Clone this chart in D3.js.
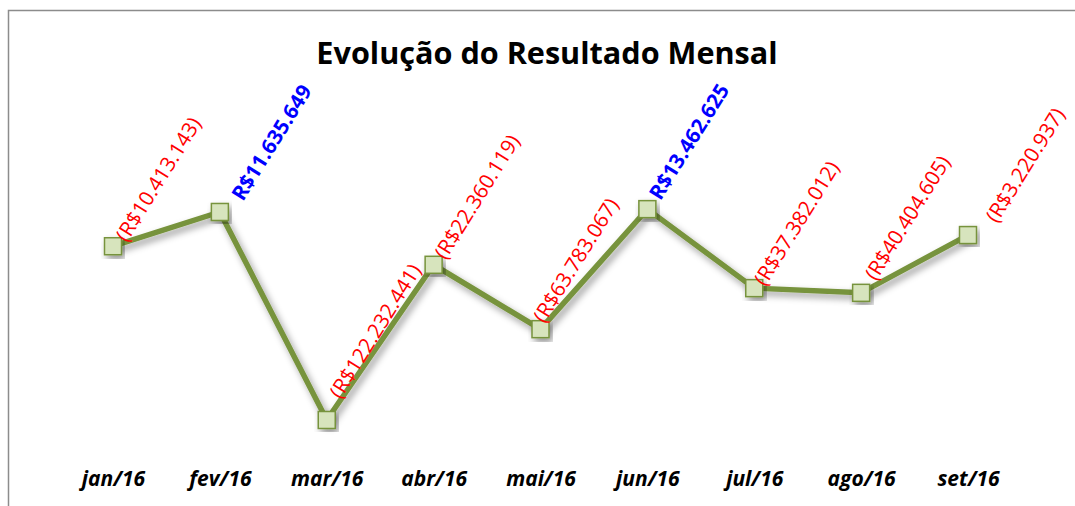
<!DOCTYPE html>
<html>
<head>
<meta charset="utf-8">
<script src="https://cdn.jsdelivr.net/npm/d3@7"></script>
<style>
  html, body { margin: 0; padding: 0; background: #fff; }
  svg { display: block; }
</style>
</head>
<body>
<svg id="chart" width="1075" height="506"></svg>
<script>
// Monthly result (R$)
const months = ["jan/16", "fev/16", "mar/16", "abr/16", "mai/16", "jun/16", "jul/16", "ago/16", "set/16"];
const results = [-10413143, 11635649, -122232441, -22360119, -63783067, 13462625, -37382012, -40404605, -3220937];
const chartTitle = "Evolução do Resultado Mensal";
const yDomain = [-140000000, 40000000];

// Hand-placed nudges for the value labels, in px [dx, dy]
const labelNudge = [[0, 0], [9, -7], [0, -17], [-2, -1], [-10, -2], [-1, -5], [-3, 2], [1, -8], [15, -8]];

const W = 1075, H = 506;
const svg = d3.select("#chart");

// Soft shadow used by the line and markers
const defs = svg.append("defs");
const f = defs.append("filter").attr("id", "shadow")
  .attr("x", "-20%").attr("y", "-20%").attr("width", "140%").attr("height", "140%");
f.append("feDropShadow").attr("dx", 3).attr("dy", 4).attr("stdDeviation", 3.5)
  .attr("flood-color", "#000").attr("flood-opacity", 0.4);

// Chart frame
svg.append("rect").attr("x", 8.5).attr("y", 10.5).attr("width", 1200).attr("height", 600)
  .attr("fill", "#fff").attr("stroke", "#8c8c8c").attr("stroke-width", 1.5);

const x = d3.scalePoint().domain(months).range([113, 968]);
const y = d3.scaleLinear().domain(yDomain).range([447.6, 167.9]);

// Title
svg.append("text").attr("x", 547).attr("y", 64).attr("text-anchor", "middle")
  .style("font-family", "'Open Sans', sans-serif").style("font-weight", "bold")
  .style("font-size", "30.6px").attr("fill", "#000").text(chartTitle);

// Category labels
const xAxis = d3.axisBottom(x).tickSize(0).tickPadding(0);
const gx = svg.append("g").attr("transform", "translate(0,471)").call(xAxis);
gx.select(".domain").remove();
gx.selectAll("text")
  .attr("dy", "0.7em")
  .style("font-family", "'Open Sans', sans-serif").style("font-weight", "bold")
  .style("font-style", "italic").style("font-size", "21px").attr("fill", "#000");

const data = months.map((m, i) => ({ m, v: results[i], n: labelNudge[i] }));

// Line
svg.append("path").datum(data)
  .attr("d", d3.line().x(d => x(d.m)).y(d => y(d.v)))
  .attr("fill", "none").attr("stroke", "#77933C").attr("stroke-width", 5.5)
  .attr("stroke-linejoin", "miter").attr("filter", "url(#shadow)");

// Markers
const ms = 17;
svg.append("g").selectAll("rect").data(data).join("rect")
  .attr("x", d => x(d.m) - ms / 2).attr("y", d => y(d.v) - ms / 2)
  .attr("width", ms).attr("height", ms)
  .attr("fill", "#D7E4BD").attr("stroke", "#77933C").attr("stroke-width", 1.5)
  .attr("filter", "url(#shadow)");

// Value labels: negatives in red with parentheses, positives in bold blue
const fmt = v => {
  const s = "R$" + d3.format(",")(Math.abs(v)).replace(/,/g, ".");
  return v < 0 ? "(" + s + ")" : s;
};
svg.append("g").selectAll("text").data(data).join("text")
  .attr("transform", d => `translate(${x(d.m) + 14 + d.n[0]},${y(d.v) - 3 + d.n[1]}) rotate(-58)`)
  .style("font-family", "'Open Sans', sans-serif")
  .style("font-size", "20.6px")
  .style("font-weight", d => d.v < 0 ? "normal" : "bold")
  .attr("fill", d => d.v < 0 ? "#FF0000" : "#0000FF")
  .text(d => fmt(d.v));
</script>
</body>
</html>
